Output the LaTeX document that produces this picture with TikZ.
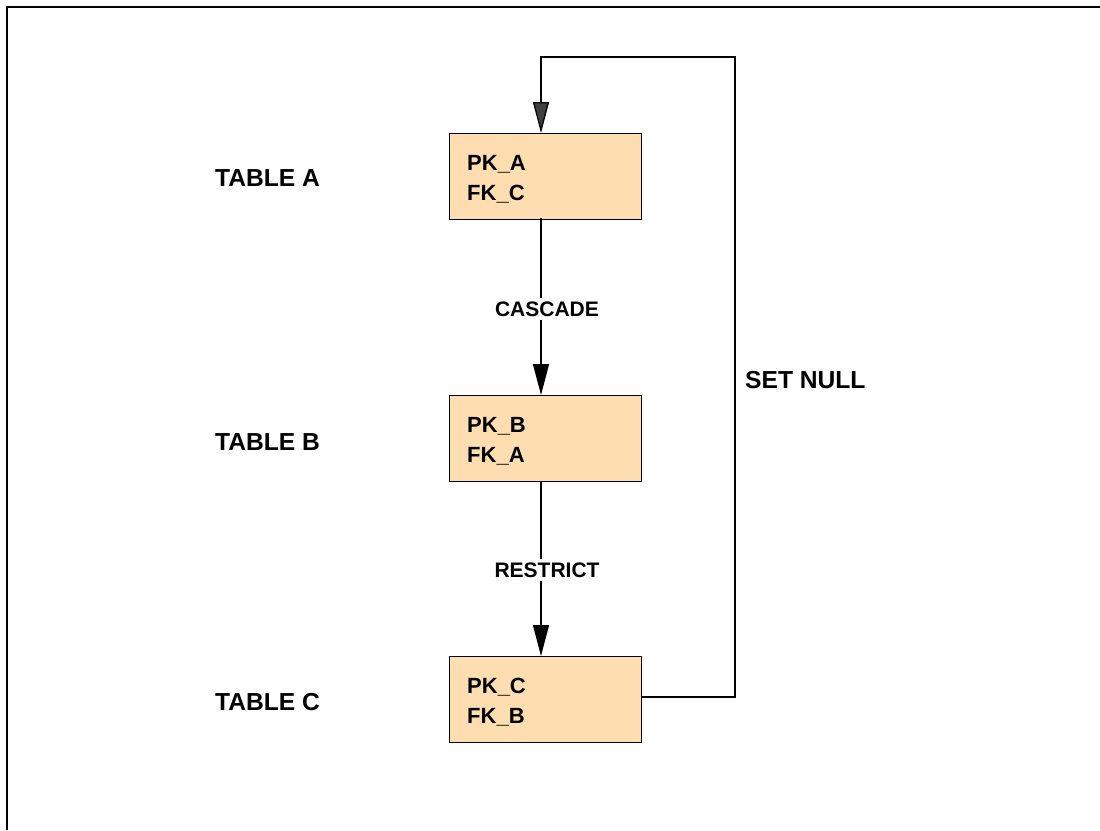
\documentclass[tikz,border=0pt]{standalone}
\usepackage{fontspec}
\setmainfont{Liberation Sans}
\usetikzlibrary{arrows.meta}
\definecolor{boxfill}{RGB}{254,222,176}
\definecolor{darkarrow}{RGB}{64,64,64}
\begin{document}
\begin{tikzpicture}[x=1pt,y=-1pt,
  tablebox/.style={draw=black,line width=1.3pt,fill=boxfill,minimum width=192pt,minimum height=86pt,inner sep=0pt,anchor=north west},
  fieldtxt/.style={font=\fontsize{22}{22}\selectfont\bfseries,anchor=west,inner sep=0pt},
  tablelbl/.style={font=\fontsize{24.6}{24.6}\selectfont\bfseries,anchor=west,inner sep=0pt},
  edgelbl/.style={font=\fontsize{21}{21}\selectfont\bfseries,fill=white,inner sep=4pt},
  conn/.style={line width=1.3pt},
  tip/.style={-{Triangle[length=31pt,width=16pt]}}
]
\useasboundingbox (0,0) rectangle (1100,830);
\fill[white] (0,0) rectangle (1100,830);
% frame
\draw[line width=2pt] (7,830) -- (7,7) -- (1100,7);

% boxes
\node[tablebox] (A) at (449,133) {};
\node[tablebox] (B) at (449,395) {};
\node[tablebox] (C) at (449,656) {};

\node[fieldtxt] (a1) at (467,164) {PK\_A};
\node[fieldtxt] (a2) at (467,194) {FK\_C};
\node[fieldtxt] (b1) at (467,426) {PK\_B};
\node[fieldtxt] (b2) at (467,456) {FK\_A};
\node[fieldtxt] (c1) at (467,687) {PK\_C};
\node[fieldtxt] (c2) at (467,717) {FK\_B};

\node[tablelbl] (ta) at (215,178) {TABLE A};
\node[tablelbl] (tb) at (215,442) {TABLE B};
\node[tablelbl] (tc) at (215,702) {TABLE C};
\node[tablelbl] (sn) at (745,380) {SET NULL};

% connectors
\coordinate (aS) at (541,218);
\coordinate (bN) at (541,395);
\coordinate (bS) at (541,481);
\coordinate (cN) at (541,656);
\coordinate (aN) at (541,133);
\coordinate (cE) at (641,697);

\draw[conn,tip] (aS) -- (bN);
\draw[conn,tip] (bS) -- (cN);
\node[edgelbl] (lc) at (547,309) {CASCADE};
\node[edgelbl] (lr) at (547,570) {RESTRICT};

\draw[conn,-{Triangle[length=31pt,width=16pt,fill=darkarrow]},draw=black] (cE) -- (735,697) -- (735,57) -- (541,57) -- (aN);
\end{tikzpicture}
\end{document}
